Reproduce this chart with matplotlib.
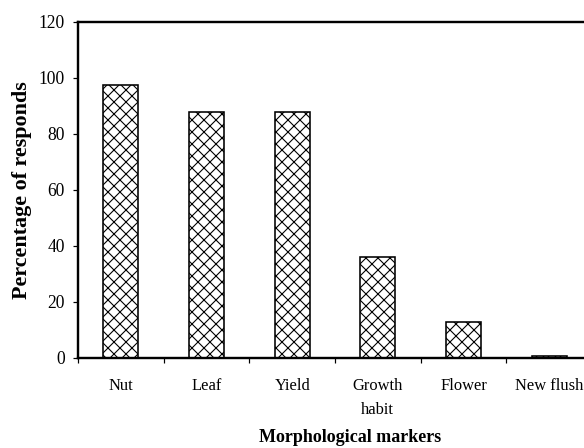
import matplotlib
matplotlib.use("Agg")
import matplotlib.pyplot as plt
import numpy as np

# data
markers = ["Nut", "Leaf", "Yield", "Growth\nhabit", "Flower", "New flush"]
percent = [97.5, 88, 88, 36, 13, 0.6]
yticks = [0, 20, 40, 60, 80, 100, 120]

plt.rcParams['font.family'] = ['Liberation Serif', 'DejaVu Serif']
plt.rcParams['hatch.linewidth'] = 1.1
plt.rcParams['hatch.color'] = '#505050'

# dpi 72 -> 1 pt == 1 px
fig = plt.figure(figsize=(584 / 72, 448 / 72), dpi=72)
ax = fig.add_axes([78 / 584, 90 / 448, 514 / 584, 336 / 448])

x = np.arange(len(markers))
ax.bar(x, percent, width=0.41, color='white', edgecolor='black',
       linewidth=1.6, hatch='xx', zorder=2)

ax.set_xlim(-0.5, len(markers) - 0.5)
ax.set_ylim(0, 120)
ax.set_yticks(yticks)
ax.set_yticklabels([str(v) for v in yticks])

# boundary ticks (no label) + centred labels
ax.set_xticks(np.arange(len(markers)) - 0.5)
ax.set_xticklabels([])
ax.set_xticks(x, minor=True)
ax.set_xticklabels(markers, minor=True, linespacing=1.65)
ax.tick_params(axis='x', which='major', direction='out', length=5, width=1.2)
ax.tick_params(axis='x', which='minor', length=0, pad=20, labelsize=16.5)
ax.tick_params(axis='y', direction='out', length=5, width=1.2, pad=8,
               labelsize=17.5)

for s in ['left', 'top', 'bottom']:
    ax.spines[s].set_linewidth(2.4)
ax.spines['right'].set_visible(False)

fig.text(22 / 584, 1 - 190 / 448, "Percentage of responds", rotation=90,
         ha='center', va='center', fontsize=22, fontweight='bold')
fig.text(350 / 584, 1 - 437 / 448, "Morphological markers",
         ha='center', va='center', fontsize=18, fontweight='bold')

fig.savefig("out.png", dpi=72)
